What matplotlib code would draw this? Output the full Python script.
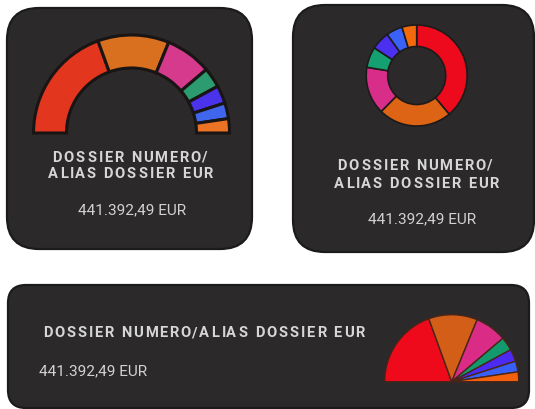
import numpy as np
import matplotlib
matplotlib.use('Agg')
import matplotlib.pyplot as plt
from matplotlib.patches import FancyBboxPatch
from matplotlib.font_manager import FontProperties, findfont
from matplotlib.ft2font import FT2Font

W, H, DPI = 535, 409, 100

# shares of the total amount, same split in all three widgets
shares = [38.9, 23.5, 15.2, 6.6, 5.9, 5.2, 4.7]
gauge_colors = ['#E2361F', '#D8701F', '#D53A8C', '#2C9C70', '#4A33EA', '#3F66EC', '#EA7424']
donut_colors = ['#EC0A1C', '#DC6414', '#D82E8A', '#14A070', '#4B30F0', '#3A62F8', '#F26A0C']
pie_colors = ['#EE0A1A', '#D35E18', '#DA2C86', '#139A6C', '#4B2BF2', '#3860F8', '#F2620E']

title_lines = ['DOSSIER NUMERO/', 'ALIAS DOSSIER EUR']
title_wide = 'DOSSIER NUMERO/ALIAS DOSSIER EUR'
amount = '441.392,49 EUR'

CARD = '#2B292A'
TITLE_C = '#D6D6D6'
VALUE_C = '#D2D2D2'

fig = plt.figure(figsize=(W / DPI, H / DPI), dpi=DPI)
fig.patch.set_facecolor('white')
ax = fig.add_axes([0, 0, 1, 1])


def Y(y):
    # image rows -> y-up pixel coords
    return H - y


def card(x0, y0, x1, y1, r):
    p = FancyBboxPatch((x0, Y(y1)), x1 - x0, y1 - y0,
                       boxstyle=f'round,pad=0,rounding_size={r}',
                       fc=CARD, ec='#1b1b1b', lw=1.6, zorder=1)
    ax.add_patch(p)


def tracked(x, y, s, size, tracking, color, weight='bold', ha='center'):
    # letter-spaced text, one glyph at a time
    prop = FontProperties(family='Roboto', weight=weight, size=size)
    font = FT2Font(findfont(prop), hinting_factor=1)
    font.set_size(size, DPI)
    adv, bear = [], []
    for c in s:
        g = font.load_char(ord(c))
        adv.append(g.horiAdvance / 64)
        bear.append(g.horiBearingX / 64)
    adv = np.array(adv) + tracking
    total = adv.sum() - tracking
    x0 = x - total / 2 if ha == 'center' else x
    xs = x0 + np.concatenate([[0], np.cumsum(adv)[:-1]])
    for xi, b, c in zip(xs, bear, s):
        if c == ' ':
            continue
        ax.text(xi + b, Y(y), c, fontproperties=prop, color=color,
                ha='left', va='baseline', zorder=5)


def plain(x, y, s, size, color, ha='center'):
    ax.text(x, Y(y), s, family='Roboto', fontsize=size, color=color,
            ha=ha, va='baseline', zorder=5)


# cards
card(7, 8, 252, 249, 32)
card(293, 5, 534, 252, 32)
card(8, 285, 529, 408, 18)

# half gauge (top left)
vals = shares + [sum(shares)]
w, _ = ax.pie(vals, colors=gauge_colors + ['none'], startangle=180,
              counterclock=False, radius=98, center=(131.5, Y(133)),
              wedgeprops=dict(width=33, edgecolor='#1a1515', linewidth=2.2),
              frame=True)
w[-1].set_visible(False)

# donut (top right)
ax.pie(shares, colors=donut_colors, startangle=90, counterclock=False,
       radius=50.5, center=(416.7, Y(75.5)),
       wedgeprops=dict(width=21.5, edgecolor='#1e1a1a', linewidth=1.2),
       frame=True)

# half pie (bottom)
w, _ = ax.pie(vals, colors=pie_colors + ['none'], startangle=180,
              counterclock=False, radius=67, center=(451.7, Y(381.7)),
              wedgeprops=dict(edgecolor='#4a2418', linewidth=1.0),
              frame=True)
w[-1].set_visible(False)

# texts
tracked(129.5, 161.7, title_lines[0], 10.6, 1.3, TITLE_C)
tracked(130, 178.2, title_lines[1], 10.6, 1.3, TITLE_C)
plain(132.5, 214, amount, 11.1, VALUE_C)

tracked(414.5, 170, title_lines[0], 10.6, 1.3, TITLE_C)
tracked(416, 188.3, title_lines[1], 10.6, 1.3, TITLE_C)
plain(421.7, 223.3, amount, 11.1, VALUE_C)

tracked(41.7, 337.3, title_wide, 10.6, 1.3, TITLE_C, ha='left')
plain(39.3, 375, amount, 11.1, VALUE_C, ha='left')

ax.set_xlim(0, W)
ax.set_ylim(0, H)
ax.set_aspect('auto')
ax.axis('off')

fig.savefig('out.png', dpi=DPI)
